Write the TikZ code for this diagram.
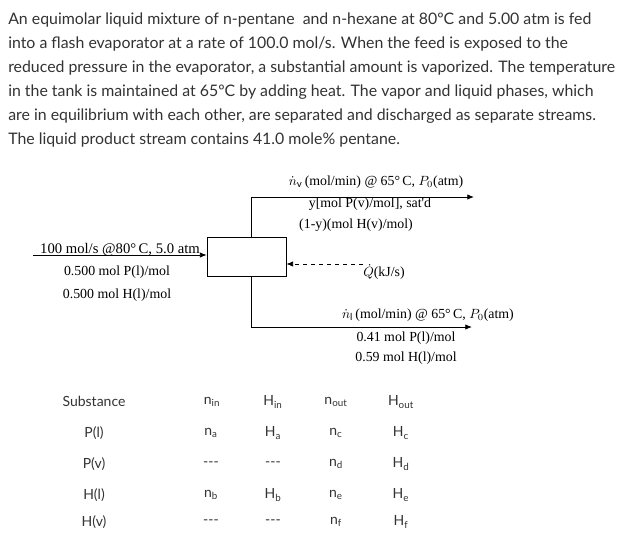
\documentclass[tikz,border=0pt]{standalone}
\usepackage{fontspec}
\setmainfont{Lato}
\newfontfamily\tnr{Liberation Serif}
\usetikzlibrary{arrows.meta}
\definecolor{txt}{HTML}{333333}
\tikzset{
  para/.style={anchor=west,inner sep=0pt,text=txt,font=\fontsize{11.9pt}{13pt}\selectfont},
  tab/.style={inner sep=0pt,text=txt,font=\fontsize{10.5pt}{12pt}\selectfont},
  lab/.style={inner sep=0pt,font=\tnr\fontsize{10.4pt}{12pt}\selectfont},
  flow/.style={line width=0.6pt,-{Latex[length=5pt,width=4pt]}},
}
\begin{document}
\begin{tikzpicture}[x=0.75pt,y=-0.75pt]
\useasboundingbox[fill=white] (0,0) rectangle (632,546);
\node[para] (p1) at (8,20) {An equimolar liquid mixture of n-pentane\ \ and n-hexane at 80ºC and 5.00 atm is fed};
\node[para] (p2) at (8,44) {into a flash evaporator at a rate of 100.0 mol/s. When the feed is exposed to the};
\node[para] (p3) at (8,68) {reduced pressure in the evaporator, a substantial amount is vaporized. The temperature};
\node[para] (p4) at (8,92) {in the tank is maintained at 65ºC by adding heat. The vapor and liquid phases, which};
\node[para] (p5) at (8,116) {are in equilibrium with each other, are separated and discharged as separate streams.};
\node[para] (p6) at (8,140) {The liquid product stream contains 41.0 mole\% pentane.};

\node[draw,line width=0.6pt,minimum width=59.25pt,minimum height=29.25pt,inner sep=0pt] (box) at (246.5,256.5) {};
\coordinate (fin) at (33,255);
\draw[flow] (fin) -- (box.west |- fin);
\node[lab,font=\tnr\fontsize{11pt}{12pt}\selectfont] (f1) at (120,250) {100 mol/s @80\textdegree\,C, 5.0 atm};
\node[lab] (f2) at (117,272) {0.500 mol P(l)/mol};
\node[lab] (f3) at (117,295) {0.500 mol H(l)/mol};

\coordinate (vt) at (251,237);
\coordinate (vc) at (251,197);
\coordinate (vend) at (474,197);
\draw[line width=0.6pt] (vt) -- (vc);
\draw[flow] (vc) -- (vend);
\node[lab] (v1) at (376,182) {$\dot n_{\rm v}$\,(mol/min) @ 65\textdegree\,C, $P_0$(atm)};
\node[lab] (v2) at (370,204) {y[mol P(v)/mol], sat'd};
\node[lab] (v3) at (356,225) {(1-y)(mol H(v)/mol)};

\coordinate (qs) at (363,264);
\draw[line width=0.6pt,dashed,-{Latex[length=5pt,width=4pt]}] (qs) -- (box.east |- qs);
\node[lab] (q) at (384,272) {$\dot Q$(kJ/s)};

\coordinate (lt) at (251,277);
\coordinate (lc) at (251,327);
\coordinate (lend) at (472,327);
\draw[line width=0.6pt] (lt) -- (lc);
\draw[flow] (lc) -- (lend);
\node[lab] (l1) at (428,315) {$\dot n_{\rm l}$\,(mol/min) @ 65\textdegree\,C, $P_0$(atm)};
\node[lab] (l2) at (406,338) {0.41 mol P(l)/mol};
\node[lab] (l3) at (406,358) {0.59 mol H(l)/mol};

\foreach \name/\x/\y/\t in {
 s0/94/401/Substance, s1/94/433/P(l), s2/94/464/P(v), s3/94/495/H(l), s4/94/522/H(v),
 a0/212/402/n$_{\rm in}$, a1/211/433/n$_{\rm a}$, a2/211/464/{-}{-}{-}, a3/211/495/n$_{\rm b}$, a4/211/522/{-}{-}{-},
 b0/273/402/H$_{\rm in}$, b1/273/433/H$_{\rm a}$, b2/273/464/{-}{-}{-}, b3/273/495/H$_{\rm b}$, b4/273/522/{-}{-}{-},
 c0/336/402/n$_{\rm out}$, c1/336/433/n$_{\rm c}$, c2/336/464/n$_{\rm d}$, c3/336/495/n$_{\rm e}$, c4/336/522/n$_{\rm f}$,
 d0/401/402/H$_{\rm out}$, d1/401/433/H$_{\rm c}$, d2/401/464/H$_{\rm d}$, d3/401/495/H$_{\rm e}$, d4/401/522/H$_{\rm f}$}
  \node[tab] (\name) at (\x,\y) {\t};
\end{tikzpicture}
\end{document}
